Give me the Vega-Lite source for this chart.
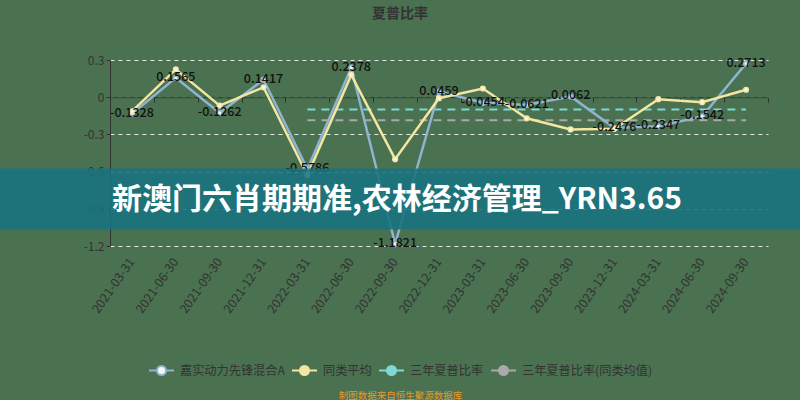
{
  "$schema": "https://vega.github.io/schema/vega-lite/v6.json",
  "width": 658,
  "height": 186,
  "autosize": {"type": "none"},
  "padding": {"left": 110, "top": 60, "right": 32, "bottom": 154},
  "background": "#4a7150",
  "config": {
    "view": {"stroke": null},
    "font": "Noto Sans CJK SC",
    "axisY": {
      "labelColor": "#333333",
      "labelFontSize": 12,
      "domainColor": "#333333",
      "tickColor": "#333333",
      "tickSize": 4,
      "gridColor": "#ffffff",
      "gridDash": [4, 4],
      "gridOpacity": 0.85
    }
  },
  "title": {
    "text": "夏普比率",
    "fontSize": 14,
    "fontWeight": "bold",
    "color": "#333333",
    "anchor": "middle",
    "frame": "group",
    "dx": -39,
    "offset": 19,
    "baseline": "bottom"
  },
  "datasets": {
    "series": [
      {"date": "2021-03-31", "series": "嘉实动力先锋混合A", "value": -0.1328},
      {"date": "2021-06-30", "series": "嘉实动力先锋混合A", "value": 0.1565},
      {"date": "2021-09-30", "series": "嘉实动力先锋混合A", "value": -0.1262},
      {"date": "2021-12-31", "series": "嘉实动力先锋混合A", "value": 0.1417},
      {"date": "2022-03-31", "series": "嘉实动力先锋混合A", "value": -0.5786},
      {"date": "2022-06-30", "series": "嘉实动力先锋混合A", "value": 0.2378},
      {"date": "2022-09-30", "series": "嘉实动力先锋混合A", "value": -1.1821},
      {"date": "2022-12-31", "series": "嘉实动力先锋混合A", "value": 0.0459},
      {"date": "2023-03-31", "series": "嘉实动力先锋混合A", "value": -0.0454},
      {"date": "2023-06-30", "series": "嘉实动力先锋混合A", "value": -0.0621},
      {"date": "2023-09-30", "series": "嘉实动力先锋混合A", "value": 0.0062},
      {"date": "2023-12-31", "series": "嘉实动力先锋混合A", "value": -0.2476},
      {"date": "2024-03-31", "series": "嘉实动力先锋混合A", "value": -0.2347},
      {"date": "2024-06-30", "series": "嘉实动力先锋混合A", "value": -0.1542},
      {"date": "2024-09-30", "series": "嘉实动力先锋混合A", "value": 0.2713},
      {"date": "2021-03-31", "series": "同类平均", "value": -0.115},
      {"date": "2021-06-30", "series": "同类平均", "value": 0.225},
      {"date": "2021-09-30", "series": "同类平均", "value": -0.068},
      {"date": "2021-12-31", "series": "同类平均", "value": 0.08},
      {"date": "2022-03-31", "series": "同类平均", "value": -0.63},
      {"date": "2022-06-30", "series": "同类平均", "value": 0.18},
      {"date": "2022-09-30", "series": "同类平均", "value": -0.5},
      {"date": "2022-12-31", "series": "同类平均", "value": -0.008},
      {"date": "2023-03-31", "series": "同类平均", "value": 0.07},
      {"date": "2023-06-30", "series": "同类平均", "value": -0.17},
      {"date": "2023-09-30", "series": "同类平均", "value": -0.26},
      {"date": "2023-12-31", "series": "同类平均", "value": -0.255},
      {"date": "2024-03-31", "series": "同类平均", "value": -0.016},
      {"date": "2024-06-30", "series": "同类平均", "value": -0.04},
      {"date": "2024-09-30", "series": "同类平均", "value": 0.06},
      {"date": "2022-03-31", "series": "三年夏普比率", "value": -0.1},
      {"date": "2024-09-30", "series": "三年夏普比率", "value": -0.1},
      {"date": "2022-03-31", "series": "三年夏普比率(同类均值)", "value": -0.185},
      {"date": "2024-09-30", "series": "三年夏普比率(同类均值)", "value": -0.185}
    ],
    "banner": [{"text": "新澳门六肖期期准,农林经济管理_YRN3.65", "top": -0.576, "bottom": -1.067, "mid": -0.83}]
  },
  "layer": [
    {
      "data": {"name": "series"},
      "transform": [{"filter": {"field": "series", "oneOf": ["三年夏普比率", "三年夏普比率(同类均值)"]}}],
      "mark": {"type": "line", "strokeWidth": 2, "strokeDash": [8, 6]},
      "encoding": {
        "x": {"field": "date", "type": "ordinal", "bandPosition": 0.5, "scale": {"type": "band", "paddingInner": 0, "paddingOuter": 0}, "axis": null},
        "y": {"field": "value", "type": "quantitative", "scale": {"domain": [-1.2, 0.3], "nice": false, "zero": false}, "axis": {"title": null, "values": [-1.2, -0.9, -0.6, -0.3, 0, 0.3], "labelExpr": "replace(format(datum.value, '~g'), '\u2212', '-')"}},
        "color": {"field": "series", "type": "nominal"}
      }
    },
    {
      "data": {"name": "series"},
      "transform": [{"filter": {"field": "series", "oneOf": ["嘉实动力先锋混合A", "同类平均"]}}],
      "mark": {"type": "line", "strokeWidth": 2.5},
      "encoding": {
        "x": {
          "field": "date", "type": "ordinal", "bandPosition": 0.5,
          "scale": {"type": "band", "paddingInner": 0, "paddingOuter": 0},
          "axis": {
            "orient": "bottom", "labelAngle": -55, "labelFontSize": 12.5, "labelColor": "#333333",
            "labelPadding": 13, "domain": false, "ticks": false, "grid": false,
            "title": "制图数据来自恒生聚源数据库", "titleX": 290, "titleY": 149,
            "titleAlign": "center", "titleBaseline": "middle", "titleFontSize": 9.5,
            "titleColor": "#e69c2a", "titleFontWeight": "normal"
          }
        },
        "y": {"field": "value", "type": "quantitative", "scale": {"domain": [-1.2, 0.3], "nice": false, "zero": false}, "axis": {"title": null, "values": [-1.2, -0.9, -0.6, -0.3, 0, 0.3], "labelExpr": "replace(format(datum.value, '~g'), '\u2212', '-')"}},
        "color": {
          "field": "series", "type": "nominal",
          "scale": {
            "domain": ["嘉实动力先锋混合A", "同类平均", "三年夏普比率", "三年夏普比率(同类均值)"],
            "range": ["#8fb4cf", "#f2e6a2", "#7fd8d4", "#a9a9a9"]
          },
          "legend": {
            "orient": "none", "legendX": 38, "legendY": 297, "direction": "horizontal",
            "title": null, "labelFontSize": 12.2, "labelColor": "#333333", "labelOffset": 5,
            "columnPadding": 3,
            "symbolType": "M-1,0L-0.36,0M0.36,0L1,0M-0.36,0A0.36,0.36,0,1,1,0.36,0A0.36,0.36,0,1,1,-0.36,0Z",
            "symbolSize": 625, "symbolStrokeWidth": 2, "symbolOpacity": 1,
            "encode": {"symbols": {"update": {"fill": {"signal": "datum.value == '嘉实动力先锋混合A' ? '#f4f7fa' : scale('color', datum.value)"}, "fillOpacity": {"value": 1}}}}
          }
        }
      }
    },
    {
      "data": {"name": "series"},
      "transform": [{"filter": {"field": "series", "oneOf": ["嘉实动力先锋混合A", "同类平均"]}}],
      "mark": {"type": "point", "filled": false, "fill": "#f6f6f0", "fillOpacity": 1, "size": 22, "strokeWidth": 1.5, "opacity": 1},
      "encoding": {
        "x": {
          "field": "date", "type": "ordinal", "bandPosition": 0.5,
          "scale": {"type": "band", "paddingInner": 0, "paddingOuter": 0},
          "axis": {
            "orient": "top", "offset": -37.2, "labels": false, "grid": false,
            "domain": true, "domainColor": "#333333", "ticks": true, "tickSize": -5,
            "tickBand": "extent", "tickColor": "#333333", "title": null
          }
        },
        "y": {"field": "value", "type": "quantitative", "scale": {"domain": [-1.2, 0.3], "nice": false, "zero": false}, "axis": {"title": null, "values": [-1.2, -0.9, -0.6, -0.3, 0, 0.3], "labelExpr": "replace(format(datum.value, '~g'), '\u2212', '-')"}},
        "color": {"field": "series", "type": "nominal"}
      }
    },
    {
      "data": {"name": "series"},
      "transform": [{"filter": {"field": "series", "equal": "嘉实动力先锋混合A"}}],
      "mark": {"type": "text", "fontSize": 12.5, "fontWeight": 500, "color": "#111111", "baseline": "middle", "dy": -1},
      "encoding": {
        "x": {"field": "date", "type": "ordinal", "bandPosition": 0.5, "scale": {"type": "band", "paddingInner": 0, "paddingOuter": 0}, "axis": null},
        "y": {"field": "value", "type": "quantitative", "scale": {"domain": [-1.2, 0.3], "nice": false, "zero": false}, "axis": {"title": null, "values": [-1.2, -0.9, -0.6, -0.3, 0, 0.3], "labelExpr": "replace(format(datum.value, '~g'), '\u2212', '-')"}},
        "text": {"field": "value", "type": "nominal"}
      }
    },
    {
      "data": {"name": "banner"},
      "mark": {"type": "rect", "color": "#17737f", "opacity": 0.87},
      "encoding": {
        "x": {"value": -110},
        "x2": {"value": 690},
        "y": {"field": "top", "type": "quantitative", "scale": {"domain": [-1.2, 0.3], "nice": false, "zero": false}, "axis": {"title": null, "values": [-1.2, -0.9, -0.6, -0.3, 0, 0.3], "labelExpr": "replace(format(datum.value, '~g'), '\u2212', '-')"}},
        "y2": {"field": "bottom"}
      }
    },
    {
      "data": {"name": "banner"},
      "mark": {"type": "text", "fontSize": 30, "fontWeight": "bold", "color": "#ffffff", "align": "left", "baseline": "middle", "font": "Noto Sans CJK SC"},
      "encoding": {
        "x": {"value": 2},
        "y": {"field": "mid", "type": "quantitative", "scale": {"domain": [-1.2, 0.3], "nice": false, "zero": false}, "axis": {"title": null, "values": [-1.2, -0.9, -0.6, -0.3, 0, 0.3], "labelExpr": "replace(format(datum.value, '~g'), '\u2212', '-')"}},
        "text": {"field": "text", "type": "nominal"}
      }
    }
  ],
  "resolve": {"axis": {"x": "independent"}}
}
